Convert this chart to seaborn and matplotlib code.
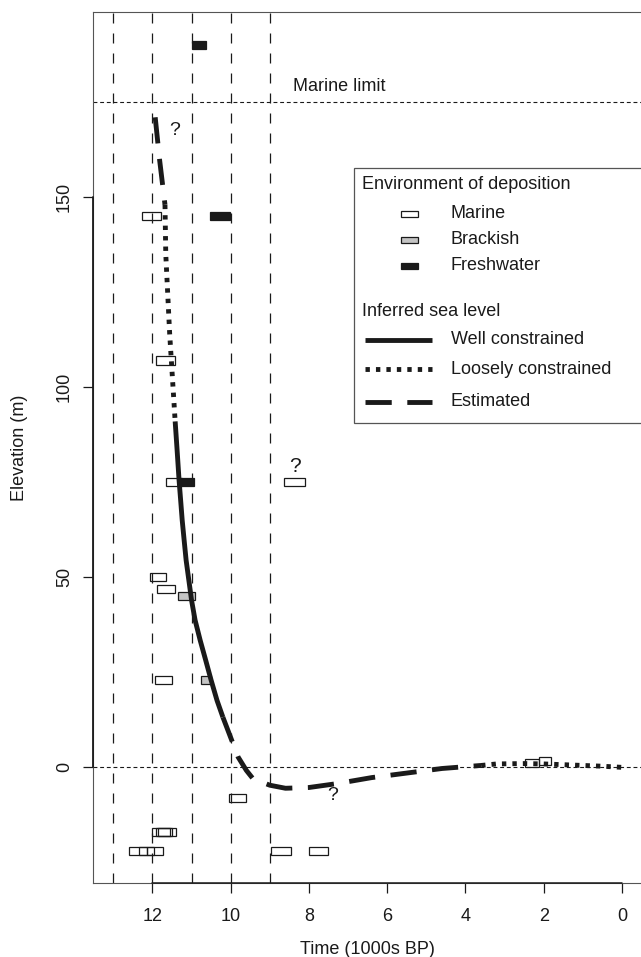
import matplotlib
matplotlib.use("Agg")
import matplotlib.pyplot as plt
from matplotlib.patches import Rectangle
from matplotlib.lines import Line2D
import numpy as np
import seaborn as sns

# dated samples: oldest age, youngest age (1000s BP), elevation (m)
marine_old = [12.26, 11.90, 11.66, 8.64, 12.07, 11.88, 11.94, 10.04, 12.00, 11.92, 11.85,
              12.60, 12.35, 12.15, 8.96, 8.00, 2.48, 2.12]
marine_young = [11.77, 11.43, 11.25, 8.10, 11.66, 11.42, 11.49, 9.62, 11.55, 11.40, 11.50,
                12.15, 11.95, 11.72, 8.45, 7.51, 2.12, 1.82]
marine_elev = [145, 107, 75, 75, 50, 47, 23, -8, -17, -17, -17,
               -22, -22, -22, -22, -22, 1.1, 1.6]

brackish_old = [11.36, 10.75]
brackish_young = [10.92, 10.50]
brackish_elev = [45, 23]

fresh_old = [11.00, 10.54, 11.30]
fresh_young = [10.64, 10.03, 10.95]
fresh_elev = [190, 145, 75]

# inferred sea level curve pieces
est_top_t = [11.93, 11.82, 11.68]
est_top_e = [171, 160, 148]
loose_up_t = [11.68, 11.66, 11.56, 11.42]
loose_up_e = [148, 135, 114, 91]
well_t = [11.42, 11.37, 11.32, 11.28, 11.24, 11.19, 11.14, 11.07, 11.00, 10.91, 10.78,
          10.64, 10.50, 10.35, 10.20]
well_e = [91, 83.4, 75.5, 70.3, 65.0, 59.7, 54.5, 49.2, 43.9, 38.7, 33.4,
          28.2, 22.9, 17.6, 13.2]
est_mid_t = [10.20, 9.81, 9.60, 9.43, 9.00, 8.60, 8.00, 7.30, 6.40, 5.50, 4.60, 3.60]
est_mid_e = [13.2, 2.7, -0.8, -3.0, -4.7, -5.5, -5.3, -4.3, -2.7, -1.5, -0.3, 0.5]
loose_low_t = [3.60, 3.20, 2.50, 2.00, 1.50, 1.00, 0.50, 0.00]
loose_low_e = [0.5, 0.9, 1.0, 0.9, 0.7, 0.5, 0.3, 0.0]

vlines = [13, 12, 11, 10, 9]
marine_limit = 175
xticks = [12, 10, 8, 6, 4, 2, 0]
yticks = [0, 50, 100, 150]

sns.set_style("ticks")
plt.rcParams['font.family'] = ['Liberation Sans', 'DejaVu Sans']
ink = '#1a1a1a'

W, H = 641, 957
fig = plt.figure(figsize=(W / 100, H / 100), dpi=100)
ax = fig.add_axes([93 / W, 1 - 883.3 / H, (642.3 - 93) / W, (883.3 - 12) / H])

LW = 3.5
solid = dict(color=ink, lw=LW, solid_capstyle='butt')
dotted = dict(color=ink, lw=LW, linestyle=(0, (0.9, 1.25)), dash_capstyle='butt')
dashed = dict(color=ink, lw=LW, linestyle=(0, (5.4, 3.2)), dash_capstyle='butt')

for v in vlines:
    ax.axvline(v, color=ink, lw=0.9, linestyle=(0, (8, 8)), zorder=1)
ax.axhline(marine_limit, color=ink, lw=0.8, linestyle=(0, (3.5, 2.5)), zorder=1)
ax.axhline(0, color=ink, lw=0.8, linestyle=(0, (3.5, 2.5)), zorder=1)

bh = 2.2
ax.barh(marine_elev, np.array(marine_old) - np.array(marine_young), left=marine_young,
        height=bh, facecolor='none', edgecolor=ink, lw=0.9, zorder=2)
ax.barh(brackish_elev, np.array(brackish_old) - np.array(brackish_young), left=brackish_young,
        height=bh, facecolor='#c4c4c4', edgecolor=ink, lw=0.9, zorder=2)
ax.barh(fresh_elev, np.array(fresh_old) - np.array(fresh_young), left=fresh_young,
        height=bh, facecolor=ink, edgecolor=ink, lw=0.9, zorder=2)

sns.lineplot(x=est_top_t, y=est_top_e, sort=False, estimator=None, ax=ax, zorder=3, **dashed)
sns.lineplot(x=loose_up_t, y=loose_up_e, sort=False, estimator=None, ax=ax, zorder=3, **dotted)
sns.lineplot(x=well_t, y=well_e, sort=False, estimator=None, ax=ax, zorder=3, **solid)
sns.lineplot(x=est_mid_t, y=est_mid_e, sort=False, estimator=None, ax=ax, zorder=3, **dashed)
sns.lineplot(x=loose_low_t, y=loose_low_e, sort=False, estimator=None, ax=ax, zorder=3, **dotted)

ax.text(8.41, 178, "Marine limit", fontsize=13, color=ink, va='baseline', ha='left')
ax.text(11.44, 167.4, "?", fontsize=14, color=ink, va='center', ha='center')
ax.text(8.36, 79.2, "?", fontsize=15, color=ink, va='center', ha='center')
ax.text(7.39, -7.5, "?", fontsize=14, color=ink, va='center', ha='center')

ax.set_xlim(13.52, -0.52)
ax.set_ylim(-30.5, 198.7)
ax.set_xticks(xticks)
ax.set_xticklabels([str(t) for t in xticks])
ax.set_yticks(yticks)
ax.set_yticklabels([str(t) for t in yticks], rotation=90, va='center')
ax.tick_params(direction='out', length=7.5, width=0.9, labelsize=13, colors=ink)
ax.tick_params(axis='x', pad=10)
ax.tick_params(axis='y', pad=7)
for s in ax.spines.values():
    s.set_color('#555555')
    s.set_linewidth(0.8)
ax.plot([13.52, 13.52], [0, 150], color=ink, lw=1.3, clip_on=False, zorder=4)
ax.plot([12, 0], [-30.5, -30.5], color=ink, lw=1.1, clip_on=False, zorder=4)
ax.set_xlabel("Time (1000s BP)", fontsize=13, color=ink, labelpad=12)
ax.set_ylabel("Elevation (m)", fontsize=13, color=ink, labelpad=20)

# legend drawn in pixel layout
def fx(x):
    return x / W

def fy(y):
    return 1 - y / H

tf = fig.transFigure
fig.patches.append(Rectangle((fx(354), fy(423.3)), fx(642.3) - fx(354), fy(168) - fy(423.3),
                             transform=tf, facecolor='white', edgecolor='#555555', lw=0.9,
                             zorder=5))
fig.text(fx(362), fy(185), "Environment of deposition", fontsize=13, color=ink, va='center',
         zorder=7)
for yy, lab, fc in [(214, "Marine", 'white'), (240, "Brackish", '#c4c4c4'), (266, "Freshwater", ink)]:
    fig.patches.append(Rectangle((fx(401), fy(yy + 3.4)), fx(418) - fx(401), fy(yy - 3.4) - fy(yy + 3.4),
                                 transform=tf, facecolor=fc, edgecolor=ink, lw=0.9, zorder=6))
    fig.text(fx(450.7), fy(yy), lab, fontsize=13, color=ink, va='center', zorder=7)
fig.text(fx(362), fy(312), "Inferred sea level", fontsize=13, color=ink, va='center', zorder=7)
for yy, lab, st in [(340, "Well constrained", solid), (369, "Loosely constrained", dotted),
                    (401.7, "Estimated", dashed)]:
    fig.lines.append(Line2D([fx(365), fx(432)], [fy(yy), fy(yy)], transform=tf, zorder=6, **st))
    fig.text(fx(450.7), fy(yy), lab, fontsize=13, color=ink, va='center', zorder=7)

fig.savefig("out.png", dpi=100)
